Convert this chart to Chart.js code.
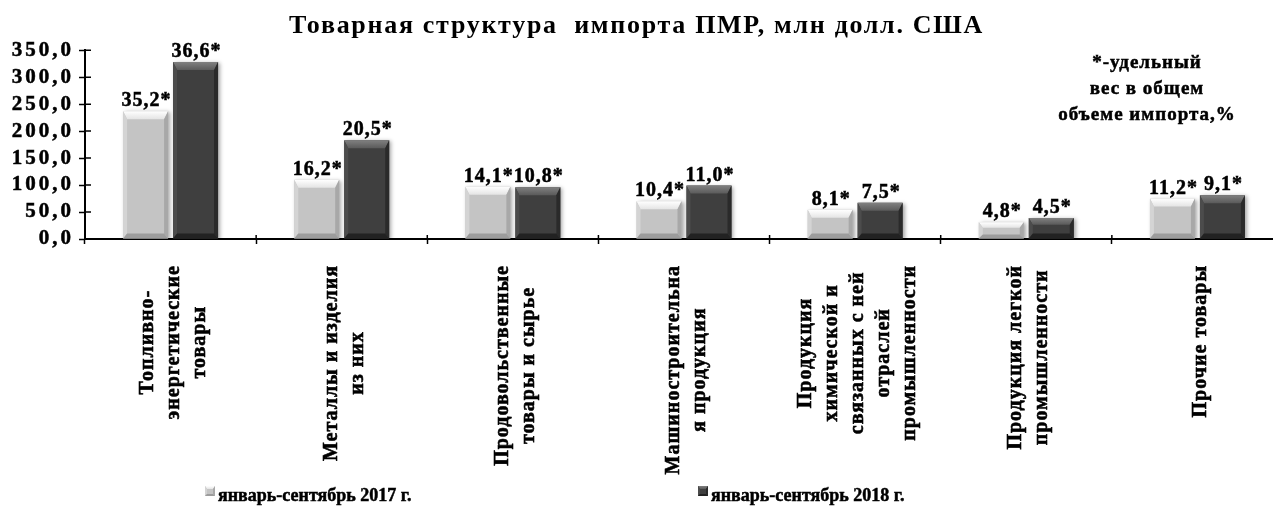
<!DOCTYPE html>
<html>
<head>
<meta charset="utf-8">
<script src="https://cdn.jsdelivr.net/npm/chart.js@4.4.1/dist/chart.umd.min.js"></script>
<style>
  html, body { margin: 0; padding: 0; background: #ffffff; }
  #wrap { width: 1273px; height: 517px; position: relative; }
  canvas { display: block; }
</style>
</head>
<body>
<div id="wrap"><canvas id="chart" width="1273" height="517"></canvas></div>
<script>
// ---------------- data ----------------
const titleText = 'Товарная структура  импорта ПМР, млн долл. США';
const categories = [
  ['Топливно-', 'энергетические', 'товары'],
  ['Металлы и изделия', 'из них'],
  ['Продовольственные', 'товары и сырье'],
  ['Машиностроительна', 'я продукция'],
  ['Продукция', 'химической и', 'связанных с ней', 'отраслей', 'промышленности'],
  ['Продукция легкой', 'промышленности'],
  ['Прочие товары']
];
const seriesNames = ['январь-сентябрь 2017 г.', 'январь-сентябрь 2018 г.'];
const values2017 = [237, 110, 97, 70, 54, 31, 75];
const values2018 = [328, 183, 96, 99, 67, 39, 81];
const share2017 = [35.2, 16.2, 14.1, 10.4, 8.1, 4.8, 11.2];
const share2018 = [36.6, 20.5, 10.8, 11.0, 7.5, 4.5, 9.1];
const yTickValues = [0, 50, 100, 150, 200, 250, 300, 350];
const noteLines = ['*-удельный', 'вес в общем', 'объеме импорта,%'];

// ---------------- style ----------------
const FONT = "'Liberation Serif', 'Times New Roman', serif";
const PAL = [
  { body: '#c4c4c4', top0: '#ffffff', top1: '#e4e4e4', left: '#d4d4d4', right: '#a8a8a8', bottom: '#9c9c9c' },
  { body: '#3f3f3f', top0: '#808080', top1: '#5a5a5a', left: '#4c4c4c', right: '#2a2a2a', bottom: '#222222' }
];
const fmtComma = (v, d) => v.toFixed(d).replace('.', ',');

function poly(ctx, pts, fill) {
  ctx.beginPath();
  ctx.moveTo(pts[0][0], pts[0][1]);
  for (let i = 1; i < pts.length; i++) ctx.lineTo(pts[i][0], pts[i][1]);
  ctx.closePath();
  ctx.fillStyle = fill;
  ctx.fill();
}
function drawBevel(ctx, x0, x1, y0, y1, pal, t, s, bt) {
  const h = y1 - y0;
  t = Math.min(t, h / 3); bt = Math.min(bt, h / 4); s = Math.min(s, (x1 - x0) / 5);
  const g = ctx.createLinearGradient(0, y0, 0, y0 + t);
  g.addColorStop(0, pal.top0); g.addColorStop(1, pal.top1);
  poly(ctx, [[x0, y0], [x1, y0], [x1 - s, y0 + t], [x0 + s, y0 + t]], g);
  poly(ctx, [[x0, y0], [x0 + s, y0 + t], [x0 + s, y1 - bt], [x0, y1]], pal.left);
  poly(ctx, [[x1, y0], [x1, y1], [x1 - s, y1 - bt], [x1 - s, y0 + t]], pal.right);
  poly(ctx, [[x0, y1], [x0 + s, y1 - bt], [x1 - s, y1 - bt], [x1, y1]], pal.bottom);
}
function boldText(ctx, text, x, y) {
  ctx.fillText(text, x, y);
  ctx.strokeText(text, x, y);
}

// ---------------- plugin ----------------
const deco = {
  id: 'deco',
  afterLayout(chart) {
    // plot area continues slightly past the right edge of the picture
    const xs = chart.scales.x, extra = 10;
    xs.right += extra; xs.width += extra;
    chart.chartArea.right += extra; chart.chartArea.width += extra;
    xs.configure();
  },
  beforeDraw(chart) {
    chart.ctx.letterSpacing = '1.7px';
  },
  beforeDatasetsDraw(chart) {
    const ctx = chart.ctx;
    ctx.save();
    ctx.letterSpacing = '0px';
    ctx.shadowColor = 'rgba(0,0,0,0.35)';
    ctx.shadowBlur = 4;
    ctx.shadowOffsetX = 2;
    ctx.shadowOffsetY = 1;
  },
  afterDatasetsDraw(chart) {
    const ctx = chart.ctx;
    ctx.restore();
    const shares = [share2017, share2018];
    ctx.save();
    ctx.letterSpacing = '0px';
    chart.data.datasets.forEach((ds, di) => {
      const meta = chart.getDatasetMeta(di);
      meta.data.forEach((bar) => {
        const p = bar.getProps(['x', 'y', 'base', 'width'], true);
        drawBevel(ctx, p.x - p.width / 2, p.x + p.width / 2, p.y, p.base, PAL[di], 8, 4, 5);
      });
    });
    ctx.letterSpacing = '1px';
    ctx.font = `bold 20px ${FONT}`;
    ctx.fillStyle = '#000';
    ctx.strokeStyle = '#000';
    ctx.lineWidth = 0.5;
    ctx.textAlign = 'center';
    ctx.textBaseline = 'alphabetic';
    chart.data.datasets.forEach((ds, di) => {
      const meta = chart.getDatasetMeta(di);
      meta.data.forEach((bar, i) => {
        const p = bar.getProps(['x', 'y'], true);
        boldText(ctx, fmtComma(shares[di][i], 1) + '*', p.x + 1, p.y - 5);
      });
    });
    // inner halves of the cross tick marks
    const xs = chart.scales.x, ys = chart.scales.y;
    ctx.lineWidth = 1.5;
    ctx.beginPath();
    ys.ticks.forEach((t, i) => {
      const y = ys.getPixelForTick(i);
      ctx.moveTo(xs.left, y); ctx.lineTo(xs.left + 6, y);
    });
    for (let i = 0; i <= categories.length; i++) {
      const x = xs.getPixelForValue(i - 0.5);
      ctx.moveTo(x, xs.top); ctx.lineTo(x, xs.top - 4);
    }
    ctx.stroke();
    ctx.restore();
    ctx.letterSpacing = '3px'; // y tick labels (drawn after datasets)
  },
  afterDraw(chart) {
    const ctx = chart.ctx;
    ctx.letterSpacing = '0px';
    const xs = chart.scales.x;
    ctx.save();
    ctx.fillStyle = '#000';
    ctx.strokeStyle = '#000';
    ctx.lineWidth = 0.6;
    // category labels, rotated
    ctx.font = `bold 20px ${FONT}`;
    ctx.letterSpacing = '1px';
    ctx.textAlign = 'center';
    ctx.textBaseline = 'middle';
    const top = xs.top + 26;
    categories.forEach((lines, i) => {
      const cx = xs.getPixelForValue(i) + 3;
      const maxW = Math.max(...lines.map(l => ctx.measureText(l).width));
      const cy = top + maxW / 2;
      const n = lines.length;
      lines.forEach((line, j) => {
        ctx.save();
        ctx.translate(cx + (j - (n - 1) / 2) * 26, cy);
        ctx.rotate(-Math.PI / 2);
        boldText(ctx, line, 0, 0);
        ctx.restore();
      });
    });
    // note
    ctx.font = `bold 19px ${FONT}`;
    ctx.letterSpacing = '1px';
    ctx.lineWidth = 0.5;
    ctx.textBaseline = 'alphabetic';
    noteLines.forEach((l, i) => boldText(ctx, l, 1147, 68 + i * 26));
    // legend
    ctx.letterSpacing = '0px';
    ctx.font = `bold 18px ${FONT}`;
    ctx.textAlign = 'left';
    const legendX = [205, 698];
    chart.data.datasets.forEach((ds, di) => {
      const x = legendX[di], y = 486;
      ctx.fillStyle = PAL[di].body;
      ctx.fillRect(x, y, 10, 10);
      drawBevel(ctx, x, x + 10, y, y + 10, PAL[di], 3, 2, 2);
      ctx.fillStyle = '#000';
      boldText(ctx, ds.label, x + 13, y + 15);
    });
    ctx.restore();
  }
};

new Chart(document.getElementById('chart'), {
  type: 'bar',
  data: {
    labels: categories,
    datasets: [
      { label: seriesNames[0], data: values2017, backgroundColor: PAL[0].body, borderWidth: 0 },
      { label: seriesNames[1], data: values2018, backgroundColor: PAL[1].body, borderWidth: 0 }
    ]
  },
  options: {
    responsive: false,
    animation: false,
    events: [],
    layout: { padding: 0 },
    datasets: { bar: { categoryPercentage: 0.584, barPercentage: 0.9 } },
    plugins: {
      legend: { display: false },
      tooltip: { enabled: false },
      title: {
        display: true,
        text: titleText,
        color: '#000',
        font: { family: FONT, size: 26, weight: 'bold' },
        padding: { top: 11, bottom: 8 }
      }
    },
    scales: {
      x: {
        offset: true,
        grid: { display: true, offset: true, drawOnChartArea: false, drawTicks: true, tickLength: 5, tickColor: '#000', tickWidth: 1.5 },
        border: { display: true, color: '#000', width: 2 },
        ticks: { display: false },
        afterFit(scale) { scale.height = 278; }
      },
      y: {
        min: 0, max: 350,
        afterBuildTicks(scale) { scale.ticks = yTickValues.map(v => ({ value: v })); },
        grid: { display: true, drawOnChartArea: false, drawTicks: true, tickLength: 6, tickColor: '#000', tickWidth: 1.5 },
        border: { display: true, color: '#000', width: 2 },
        ticks: {
          z: 1,
          autoSkip: false,
          padding: 5,
          color: '#000',
          textStrokeColor: '#000',
          textStrokeWidth: 0.5,
          font: { family: FONT, size: 21, weight: 'bold' },
          callback: (v) => fmtComma(v, 1)
        },
        afterFit(scale) { scale.width = 85; }
      }
    }
  },
  plugins: [deco]
});
</script>
</body>
</html>
